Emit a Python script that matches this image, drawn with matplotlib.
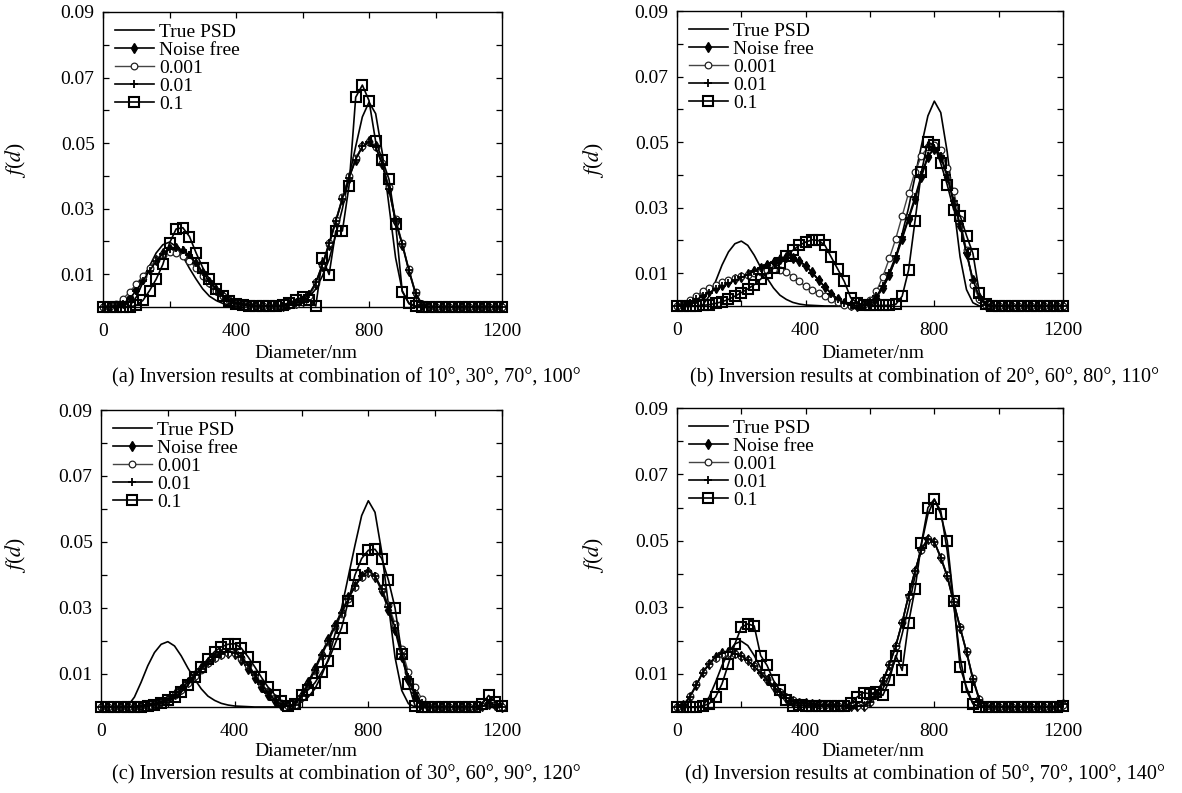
import numpy as np
import matplotlib
matplotlib.use('Agg')
import matplotlib.pyplot as plt

plt.rcParams['font.family'] = 'Liberation Serif'
plt.rcParams['mathtext.fontset'] = 'stix'

# diameter grid (nm)
diameter = list(range(0, 1201, 20))

# true PSD, same in every panel
true_psd = [0, 0, 0, 0, 0.0003, 0.003, 0.0075, 0.0125, 0.0165, 0.019,
            0.0198, 0.0185, 0.0155, 0.0118, 0.0085, 0.0055, 0.0033, 0.002, 0.0011, 0.0006,
            0.0003, 0.0002, 0.0001, 0, 0, 0, 0, 0.0001, 0.0003, 0.0007,
            0.0015, 0.003, 0.0055, 0.0095, 0.0145, 0.022, 0.030, 0.0395, 0.049, 0.058,
            0.0625, 0.059, 0.047, 0.031, 0.015, 0.005, 0.001, 0, 0, 0,
            0, 0, 0, 0, 0, 0, 0, 0, 0, 0,
            0]

# (a) 10, 30, 70, 100 deg
a_free = [0, 0, 0.0003, 0.0012, 0.003, 0.0055, 0.0085, 0.0115, 0.0143, 0.0165,
          0.0177, 0.018, 0.0172, 0.0155, 0.013, 0.0102, 0.0075, 0.0052, 0.0033, 0.002,
          0.0012, 0.0008, 0.0005, 0.0003, 0.0002, 0.0002, 0.0002, 0.0004, 0.0008, 0.0013,
          0.002, 0.0035, 0.007, 0.0125, 0.019, 0.026, 0.033, 0.0395, 0.045, 0.049,
          0.0505, 0.049, 0.0435, 0.036, 0.026, 0.019, 0.011, 0.004, 0.0006, 0,
          0, 0, 0, 0, 0, 0, 0, 0, 0, 0,
          0]
a_n001 = [0, 0.0002, 0.001, 0.0025, 0.0045, 0.007, 0.0095, 0.012, 0.0143, 0.016,
          0.0167, 0.0165, 0.0155, 0.014, 0.012, 0.0095, 0.0072, 0.005, 0.0033, 0.002,
          0.0012, 0.0008, 0.0005, 0.0003, 0.0002, 0.0002, 0.0001, 0.0003, 0.0006, 0.0008,
          0.0015, 0.0035, 0.0075, 0.013, 0.0195, 0.0265, 0.0335, 0.04, 0.0455, 0.049,
          0.0503, 0.0488, 0.0438, 0.0365, 0.027, 0.0195, 0.0115, 0.0045, 0.0008, 0.0001,
          0, 0, 0, 0, 0, 0, 0, 0, 0, 0,
          0]
a_n01 = [0, 0, 0.0002, 0.001, 0.0025, 0.005, 0.008, 0.011, 0.014, 0.0163,
         0.0176, 0.018, 0.0174, 0.0158, 0.0134, 0.0106, 0.0078, 0.0054, 0.0035, 0.0021,
         0.0013, 0.0008, 0.0005, 0.0003, 0.0002, 0.0002, 0.0002, 0.0003, 0.0007, 0.0012,
         0.0022, 0.004, 0.0075, 0.013, 0.0195, 0.0262, 0.033, 0.0395, 0.045, 0.049,
         0.0503, 0.0488, 0.0435, 0.036, 0.0262, 0.0192, 0.0112, 0.0042, 0.0006, 0,
         0, 0, 0, 0, 0, 0, 0, 0, 0, 0,
         0]
a_n1 = [0, 0, 0, 0, 0, 0.0005, 0.002, 0.005, 0.0085, 0.013,
        0.0195, 0.0238, 0.0242, 0.0215, 0.0165, 0.012, 0.0085, 0.0055, 0.0033, 0.0018,
        0.001, 0.0006, 0.0004, 0.0002, 0.0002, 0.0002, 0.0003, 0.0006, 0.0012, 0.0022,
        0.003, 0.0022, 0.0003, 0.015, 0.0099, 0.0232, 0.0232, 0.037, 0.064, 0.0677,
        0.063, 0.0505, 0.045, 0.039, 0.0254, 0.0047, 0.0012, 0.0003, 0, 0,
        0, 0, 0, 0, 0, 0, 0, 0, 0, 0,
        0]

# (b) 20, 60, 80, 110 deg
b_free = [0, 0.0003, 0.0013, 0.0025, 0.0035, 0.0045, 0.0055, 0.0064, 0.0073, 0.0082,
          0.009, 0.0099, 0.0108, 0.0117, 0.0126, 0.0135, 0.0143, 0.0148, 0.0147, 0.0138,
          0.0123, 0.0103, 0.008, 0.0058, 0.0038, 0.0021, 0.0009, 0.0003, 0.0001, 0.0002,
          0.001, 0.0025, 0.0055, 0.0095, 0.0145, 0.0205, 0.0265, 0.0325, 0.0395, 0.0455,
          0.048, 0.0455, 0.0395, 0.0315, 0.0245, 0.016, 0.0078, 0.0025, 0.0003, 0,
          0, 0, 0, 0, 0, 0, 0, 0, 0, 0,
          0]
b_n001 = [0, 0.0005, 0.0018, 0.0032, 0.0045, 0.0055, 0.0064, 0.0072, 0.008, 0.0086,
          0.0091, 0.0096, 0.01, 0.0105, 0.0109, 0.0112, 0.0111, 0.0103, 0.009, 0.0075,
          0.006, 0.0049, 0.004, 0.003, 0.0021, 0.0012, 0.0004, 0.0001, 0.0001, 0.0005,
          0.0018, 0.0045, 0.009, 0.0145, 0.0205, 0.0275, 0.0345, 0.041, 0.0458, 0.0485,
          0.049, 0.0475, 0.042, 0.035, 0.0265, 0.017, 0.0065, 0.002, 0.0003, 0,
          0, 0, 0, 0, 0, 0, 0, 0, 0, 0,
          0]
b_n01 = [0, 0.0002, 0.001, 0.002, 0.003, 0.0041, 0.0051, 0.006, 0.0069, 0.0078,
         0.0087, 0.0096, 0.0106, 0.0116, 0.0126, 0.0135, 0.0143, 0.0147, 0.0146, 0.0137,
         0.0122, 0.0102, 0.0079, 0.0057, 0.0037, 0.002, 0.0008, 0.0002, 0.0001, 0.0003,
         0.0012, 0.003, 0.006, 0.0102, 0.0152, 0.021, 0.027, 0.0332, 0.04, 0.0458,
         0.0482, 0.0458, 0.04, 0.032, 0.025, 0.0163, 0.008, 0.0026, 0.0004, 0,
         0, 0, 0, 0, 0, 0, 0, 0, 0, 0,
         0]
b_n1 = [0, 0, 0, 0, 0.0002, 0.0004, 0.0008, 0.0013, 0.002, 0.003,
        0.0041, 0.0052, 0.0065, 0.0082, 0.01, 0.0115, 0.013, 0.0153, 0.017, 0.0185,
        0.0195, 0.0202, 0.02, 0.0185, 0.0148, 0.0112, 0.0075, 0.0025, 0.001, 0.0003,
        0.0002, 0.0002, 0.0002, 0.0002, 0.0005, 0.003, 0.011, 0.026, 0.041, 0.05,
        0.049, 0.0435, 0.037, 0.0294, 0.0276, 0.0215, 0.016, 0.004, 0.0005, 0,
        0, 0, 0, 0, 0, 0, 0, 0, 0, 0,
        0]

# (c) 30, 60, 90, 120 deg
c_free = [0, 0, 0, 0, 0, 0.0001, 0.0003, 0.0005, 0.0009, 0.0015,
          0.0025, 0.0038, 0.0056, 0.0077, 0.0098, 0.0118, 0.0137, 0.0152, 0.0162, 0.0165,
          0.016, 0.0142, 0.0116, 0.0088, 0.006, 0.0037, 0.0019, 0.0007, 0.0002, 0.0008,
          0.0035, 0.0075, 0.0117, 0.0162, 0.0205, 0.025, 0.0288, 0.0332, 0.0368, 0.0397,
          0.041, 0.0395, 0.0352, 0.0295, 0.0232, 0.0152, 0.0082, 0.0033, 0.0007, 0,
          0, 0, 0, 0, 0, 0, 0, 0.0002, 0.001, 0.0006,
          0.0001]
c_n001 = [0, 0, 0, 0, 0, 0.0001, 0.0002, 0.0004, 0.0008, 0.0014,
          0.0023, 0.0035, 0.0052, 0.0072, 0.0093, 0.0113, 0.0132, 0.0148, 0.0159, 0.0165,
          0.0163, 0.015, 0.0127, 0.0099, 0.0072, 0.0047, 0.0026, 0.0011, 0.0003, 0.0007,
          0.003, 0.0068, 0.011, 0.0155, 0.0198, 0.0242, 0.0283, 0.0326, 0.0365, 0.0395,
          0.041, 0.0398, 0.036, 0.031, 0.0252, 0.0175, 0.0105, 0.006, 0.0025, 0.0004,
          0, 0, 0, 0, 0, 0, 0, 0.0002, 0.0009, 0.0005,
          0.0001]
c_n01 = [0, 0, 0, 0, 0, 0.0001, 0.0002, 0.0005, 0.0009, 0.0015,
         0.0024, 0.0037, 0.0054, 0.0075, 0.0096, 0.0116, 0.0135, 0.0151, 0.0162, 0.0168,
         0.0165, 0.0152, 0.0128, 0.0098, 0.0069, 0.0043, 0.0022, 0.0008, 0.0002, 0.0007,
         0.0032, 0.007, 0.0113, 0.0158, 0.02, 0.0245, 0.0285, 0.0328, 0.0366, 0.0396,
         0.0412, 0.0398, 0.0357, 0.0302, 0.024, 0.0162, 0.009, 0.0042, 0.0012, 0.0001,
         0, 0, 0, 0, 0, 0, 0, 0.0002, 0.0012, 0.0006,
         0.0001]
c_n1 = [0, 0, 0, 0, 0, 0, 0.0001, 0.0002, 0.0006, 0.0012,
        0.002, 0.003, 0.0045, 0.0066, 0.0092, 0.012, 0.0146, 0.0168, 0.0182, 0.019,
        0.0192, 0.0178, 0.0152, 0.0122, 0.009, 0.006, 0.0037, 0.0018, 0.0002, 0.0008,
        0.0035, 0.0052, 0.0073, 0.0105, 0.014, 0.019, 0.024, 0.032, 0.04, 0.045,
        0.0475, 0.0478, 0.045, 0.0385, 0.03, 0.016, 0.007, 0.0003, 0, 0,
        0, 0, 0, 0, 0, 0, 0, 0.0008, 0.0035, 0.0015,
        0.0002]

# (d) 50, 70, 100, 140 deg
d_free = [0, 0.0005, 0.003, 0.0065, 0.0105, 0.013, 0.0152, 0.0163, 0.0167, 0.0162,
          0.0155, 0.0141, 0.0122, 0.0102, 0.0081, 0.0061, 0.0043, 0.0027, 0.0018, 0.0013,
          0.0011, 0.001, 0.0008, 0.0006, 0.0005, 0.0004, 0.0003, 0.0002, 0.0002, 0.0002,
          0.0014, 0.0038, 0.0077, 0.0126, 0.0183, 0.0254, 0.0335, 0.041, 0.0475, 0.0507,
          0.0497, 0.0448, 0.0393, 0.0314, 0.0238, 0.0165, 0.0082, 0.002, 0.0002, 0,
          0, 0, 0, 0, 0, 0, 0, 0, 0, 0,
          0.0008]
d_n001 = [0, 0.0006, 0.0033, 0.0068, 0.0104, 0.0128, 0.0148, 0.016, 0.0164, 0.016,
          0.0153, 0.0141, 0.0124, 0.0105, 0.0084, 0.0064, 0.0046, 0.003, 0.002, 0.0014,
          0.0011, 0.0009, 0.0007, 0.0006, 0.0005, 0.0004, 0.0003, 0.0002, 0.0003, 0.0004,
          0.0016, 0.004, 0.008, 0.0128, 0.0185, 0.0255, 0.0335, 0.0408, 0.0472, 0.0505,
          0.0498, 0.0452, 0.0397, 0.0318, 0.0242, 0.0168, 0.0088, 0.0025, 0.0003, 0,
          0, 0, 0, 0, 0, 0, 0, 0, 0, 0,
          0.0006]
d_n01 = [0, 0.0005, 0.0031, 0.0066, 0.0103, 0.0129, 0.015, 0.0162, 0.0166, 0.0161,
         0.0154, 0.014, 0.0122, 0.0103, 0.0082, 0.0062, 0.0044, 0.0028, 0.0019, 0.0013,
         0.0011, 0.0009, 0.0007, 0.0006, 0.0005, 0.0004, 0.0003, 0.0002, 0.0002, 0.0003,
         0.0015, 0.0039, 0.0078, 0.0127, 0.0184, 0.0254, 0.0336, 0.041, 0.0474, 0.0506,
         0.0497, 0.045, 0.0395, 0.0316, 0.024, 0.0166, 0.0085, 0.0022, 0.0002, 0,
         0, 0, 0, 0, 0, 0, 0, 0, 0, 0,
         0.001]
d_n1 = [0, 0, 0, 0, 0.0003, 0.001, 0.003, 0.007, 0.013, 0.019,
        0.024, 0.025, 0.0244, 0.0155, 0.0125, 0.008, 0.005, 0.002, 0.0002, 0.0005,
        0.0004, 0.0003, 0.0003, 0.0002, 0.0002, 0.0002, 0.0003, 0.0012, 0.003, 0.0043,
        0.004, 0.0045, 0.0035, 0.008, 0.0155, 0.011, 0.0254, 0.0355, 0.0494, 0.06,
        0.0626, 0.058, 0.05, 0.032, 0.012, 0.006, 0.001, 0, 0, 0,
        0, 0, 0, 0, 0, 0, 0, 0, 0, 0,
        0.0003]

labels = ['True PSD', 'Noise free', '0.001', '0.01', '0.1']
captions = ['(a) Inversion results at combination of 10°, 30°, 70°, 100°',
            '(b) Inversion results at combination of 20°, 60°, 80°, 110°',
            '(c) Inversion results at combination of 30°, 60°, 90°, 120°',
            '(d) Inversion results at combination of 50°, 70°, 100°, 140°']
panels = [(a_free, a_n001, a_n01, a_n1),
          (b_free, b_n001, b_n01, b_n1),
          (c_free, c_n001, c_n01, c_n1),
          (d_free, d_n001, d_n01, d_n1)]

W, H = 1182, 793
def fx(px):
    return px / W
def fy(py):
    return 1 - py / H

# axes boxes in pixels: left, top, right, bottom
boxes_px = [(103, 12, 502, 307), (677, 11, 1063, 306),
            (101, 410, 502, 707), (677, 408, 1063, 707)]
# text anchors in pixels
ylab_px = [(15, 160), (594, 160), (15, 555), (594, 555)]
xlab_px = [(306, 353), (873, 353), (306, 752), (873, 752)]
cap_px = [(346, 378), (925, 378), (346, 775), (925, 775)]

fig = plt.figure(figsize=(W / 100, H / 100), dpi=100)
FS = 14

for i, (free, n001, n01, n1) in enumerate(panels):
    l, t, r, b = boxes_px[i]
    ax = fig.add_axes([fx(l), fy(b), (r - l) / W, (b - t) / H])
    ax.plot(diameter, true_psd, color='black', lw=1.2, label=labels[0], zorder=2)
    ax.plot(diameter, free, color='black', lw=1.2, marker='d', ms=4.8,
            mfc='black', mec='black', label=labels[1], clip_on=False, zorder=3)
    ax.plot(diameter, n001, color='#444444', lw=1.0, marker='o', ms=4.8,
            mfc='white', mec='#222222', mew=0.9, label=labels[2], clip_on=False, zorder=3)
    ax.plot(diameter, n01, color='black', lw=1.2, marker='+', ms=5.5, mew=1.3,
            label=labels[3], clip_on=False, zorder=3)
    ax.plot(diameter, n1, color='black', lw=1.2, marker='s', ms=6.8,
            mfc='none', mec='black', mew=1.5, label=labels[4], clip_on=False, zorder=4)

    ax.set_xlim(0, 1200)
    ax.set_ylim(0, 0.09)
    ax.set_xticks([0, 400, 800, 1200])
    ax.set_xticks([200, 600, 1000], minor=True)
    yt = [0.01, 0.02, 0.03, 0.04, 0.05, 0.06, 0.07, 0.08, 0.09]
    ax.set_yticks(yt)
    ax.set_yticklabels(['%.2f' % v if k % 2 == 0 else '' for k, v in enumerate(yt)])
    ax.tick_params(which='both', direction='in', top=True, right=True,
                   length=4, width=0.9, labelsize=FS)
    ax.tick_params(axis='x', which='both', pad=11.5)
    ax.tick_params(axis='y', which='both', pad=6)
    for sp in ax.spines.values():
        sp.set_linewidth(1.0)

    fig.text(fx(ylab_px[i][0]), fy(ylab_px[i][1]), r'$f$($d$)', fontsize=15.5,
             rotation=90, ha='center', va='center')
    fig.text(fx(xlab_px[i][0]), fy(xlab_px[i][1]), 'Diameter/nm', fontsize=FS,
             ha='center', va='center')
    fig.text(fx(cap_px[i][0]), fy(cap_px[i][1]), captions[i], fontsize=14.6,
             ha='center', va='center')

    ax.legend(loc='upper left', frameon=False, fontsize=FS, handlelength=2.0,
              handletextpad=0.3, labelspacing=0.02, borderaxespad=0.25,
              borderpad=0.35, numpoints=1)

fig.savefig('out.png', dpi=100)
